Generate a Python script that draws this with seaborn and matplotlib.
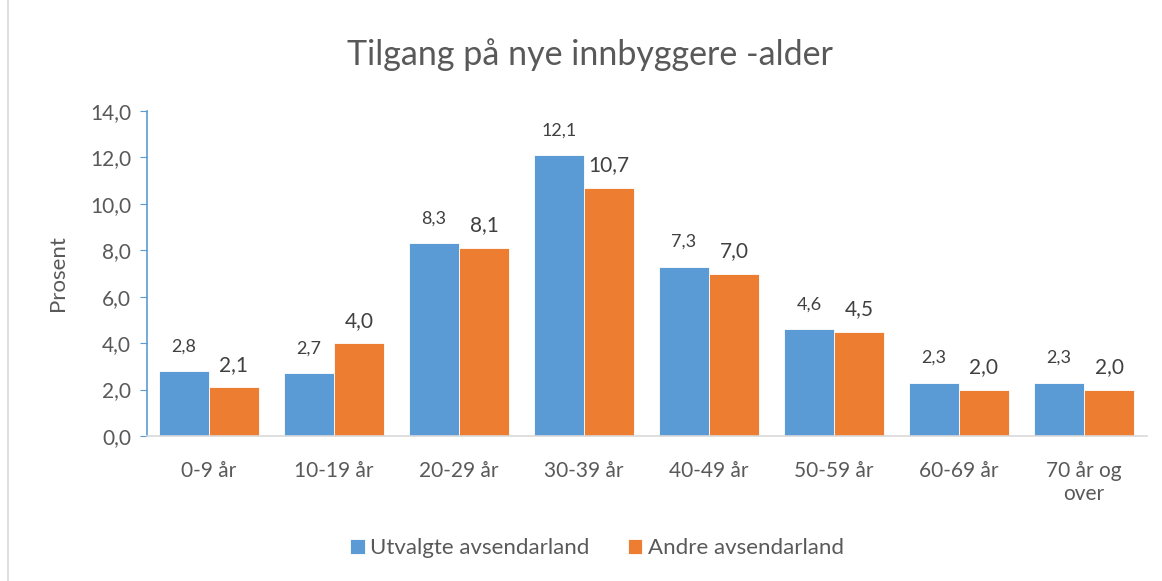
import pandas as pd
import numpy as np
import matplotlib.pyplot as plt
import seaborn as sns
from matplotlib.patches import Rectangle

# data
kategorier = ["0-9 år", "10-19 år", "20-29 år", "30-39 år", "40-49 år",
              "50-59 år", "60-69 år", "70 år og\nover"]
utvalgte = [2.8, 2.7, 8.3, 12.1, 7.3, 4.6, 2.3, 2.3]
andre = [2.1, 4.0, 8.1, 10.7, 7.0, 4.5, 2.0, 2.0]
serier = ["Utvalgte avsendarland", "Andre avsendarland"]
farger = ["#5B9BD5", "#ED7D31"]
yticks = [0, 2, 4, 6, 8, 10, 12, 14]

df = pd.DataFrame({
    "Alder": kategorier * 2,
    "Verdi": utvalgte + andre,
    "Serie": [serier[0]] * len(kategorier) + [serier[1]] * len(kategorier),
})

sns.set_style("white")
plt.rcParams["font.family"] = ["Lato", "DejaVu Sans"]
tekstfarge = "#595959"

fig = plt.figure(figsize=(11.62, 5.81), dpi=100)
ax = fig.add_axes([146.5 / 1162, 1 - 436 / 581, 1000 / 1162, 325 / 581])

sns.barplot(data=df, x="Alder", y="Verdi", hue="Serie", palette=farger,
            width=0.8, saturation=1, edgecolor="white", linewidth=0.6, ax=ax)

ax.set_ylim(0, 14)
ax.set_yticks(yticks)
ax.set_yticklabels([f"{v:.1f}".replace(".", ",") for v in yticks])
ax.set_xlim(-0.5, len(kategorier) - 0.5)
ax.set_xlabel("")
ax.set_ylabel("Prosent", fontsize=16, color=tekstfarge, labelpad=16)
ax.tick_params(axis="y", labelsize=15, colors=tekstfarge, length=5, direction="out",
               color="#5B9BD5", left=True, pad=6)
ax.tick_params(axis="x", labelsize=15, colors=tekstfarge, length=0, pad=18)
for t in ax.get_xticklabels():
    t.set_linespacing(1.2)

for s in ["top", "right"]:
    ax.spines[s].set_visible(False)
ax.spines["left"].set_color("#5B9BD5")
ax.spines["left"].set_linewidth(1.2)
ax.spines["bottom"].set_color("#D9D9D9")
ax.spines["bottom"].set_linewidth(1.2)

# data labels
for i, cont in enumerate(ax.containers):
    ax.bar_label(cont, labels=[f"{v:.1f}".replace(".", ",") for v in cont.datavalues],
                 padding=12 if i == 0 else 9, fontsize=13 if i == 0 else 15,
                 color="#404040")

handles, labels = ax.get_legend_handles_labels()
ax.get_legend().remove()
fig.legend(handles, labels, loc="center", bbox_to_anchor=(597 / 1162, 1 - 548 / 581),
           ncol=2, frameon=False, fontsize=16, labelcolor=tekstfarge,
           handlelength=0.65, handleheight=0.65, handletextpad=0.25, columnspacing=1.7)

fig.text(590 / 1162, 1 - 55 / 581, "Tilgang på nye innbyggere -alder",
         ha="center", va="center", fontsize=24.5, color=tekstfarge)

# chart border
fig.patches.append(Rectangle((8 / 1162, -0.01), 1.2, 1.2, transform=fig.transFigure,
                             fill=False, edgecolor="#D9D9D9", linewidth=1.2))

plt.savefig("out.png", dpi=100)
plt.close()
